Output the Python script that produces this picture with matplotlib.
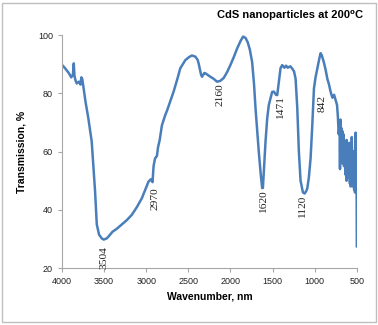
import matplotlib
matplotlib.use('Agg')
import matplotlib.pyplot as plt
from matplotlib.patches import Rectangle

# spectrum
wavenumber = [4000, 3960, 3920, 3890, 3870, 3860, 3852, 3840, 3825, 3800, 3780, 3770, 3760, 3746,
              3720, 3687, 3660, 3647, 3630, 3607, 3587, 3560, 3528, 3504, 3470, 3449, 3400, 3350,
              3290, 3230, 3171, 3110, 3052, 3010, 2973, 2945, 2925, 2913, 2895, 2873, 2860, 2840,
              2814, 2774, 2754, 2700, 2675, 2630, 2596, 2536, 2490, 2457, 2417, 2390, 2378, 2350,
              2338, 2310, 2298, 2239, 2200, 2159, 2120, 2080, 2040, 2001, 1960, 1921, 1880, 1850,
              1820, 1795, 1770, 1743, 1720, 1703, 1680, 1664, 1640, 1624, 1615, 1600, 1584, 1564,
              1545, 1525, 1505, 1485, 1460, 1445, 1425, 1406, 1386, 1360, 1340, 1320, 1290, 1267,
              1245, 1227, 1207, 1188, 1168, 1140, 1120, 1100, 1088, 1070, 1049, 1029, 1009, 990,
              969, 945, 930, 915, 900, 890, 870, 850, 830, 811, 790, 770, 750, 735, 725, 715, 705]
transmission = [89.8, 88.5, 87.0, 85.5, 86.5, 90.3, 86.0, 84.5, 83.4, 84.0, 83.0, 85.5, 85.0, 82.3,
                77.0, 71.4, 66.0, 63.4, 56.0, 46.2, 35.0, 31.5, 30.2, 29.8, 30.2, 30.8, 32.5, 33.5,
                35.0, 36.5, 38.3, 41.0, 44.0, 47.0, 49.7, 50.5, 49.5, 55.0, 57.7, 58.5, 61.5, 64.0,
                69.0, 72.6, 74.0, 78.5, 80.6, 85.0, 88.6, 91.4, 92.5, 93.0, 92.6, 91.5, 90.3, 86.5,
                85.7, 87.0, 86.9, 85.7, 85.0, 84.0, 84.3, 85.3, 87.3, 89.7, 92.5, 95.4, 98.0, 99.5,
                99.0, 97.5, 95.0, 90.8, 83.0, 75.0, 66.0, 60.0, 52.0, 47.5, 47.5, 55.0, 63.4, 71.4,
                76.0, 78.3, 80.5, 80.6, 79.5, 79.4, 84.0, 88.6, 89.7, 88.8, 89.5, 88.8, 89.3, 88.5,
                87.5, 85.0, 75.0, 60.0, 50.0, 46.0, 45.6, 46.5, 47.4, 51.0, 57.7, 69.0, 81.7, 85.5,
                88.6, 92.0, 93.8, 93.0, 91.5, 90.5, 88.0, 85.0, 83.0, 80.5, 78.5, 79.5, 77.5, 76.0,
                72.0, 66.0, 69.0]

# noisy low-wavenumber tail
tail_wavenumber = [700, 695, 685, 680, 672, 670, 662, 660, 652, 650,
                   642, 640, 632, 630, 622, 620, 612, 610, 602, 600,
                   592, 590, 582, 580, 572, 570, 562, 560, 552, 550,
                   542, 540, 532, 530, 522, 520, 515, 510, 505, 500]
tail_transmission = [54, 71, 62, 68, 56, 67, 58, 66, 55, 64,
                     60, 63, 52, 62, 50, 64, 55, 63, 57, 62,
                     51, 63, 49, 60, 48, 58, 54, 65, 50, 60,
                     48, 60, 47, 58, 46, 60, 66.5, 47, 66, 27.5]

# peak labels and where they sit
peak_text = ["3504", "2970", "2160", "1620", "1471", "1120", "842"]
peak_x = [3504, 2895, 2120, 1604, 1406, 1148, 910]
peak_y = [23.6, 44.0, 79.4, 42.8, 75.0, 41.1, 76.6]

plt.rcParams['font.family'] = ['Liberation Sans', 'DejaVu Sans']

fig = plt.figure(figsize=(3.78, 3.25), dpi=100)
ax = fig.add_axes([0.164, 0.175, 0.780, 0.717])

ax.plot(wavenumber + tail_wavenumber, transmission + tail_transmission,
        color='#4a7ebb', lw=1.8)

for t, x, y in zip(peak_text, peak_x, peak_y):
    ax.text(x, y, t, rotation=90, ha='center', va='center', fontsize=8.2,
            family='Liberation Serif', color='#222222')

ax.set_xlim(4000, 500)
ax.set_ylim(20, 100)
ax.set_xticks(range(4000, 499, -500))
ax.set_yticks(range(20, 101, 20))

for s in ['top', 'right']:
    ax.spines[s].set_visible(False)
for s in ['left', 'bottom']:
    ax.spines[s].set_color('#a6a6a6')
    ax.spines[s].set_linewidth(0.8)
ax.tick_params(colors='#a6a6a6', labelcolor='#222222', labelsize=6.5, length=3, width=0.8)

ax.set_xlabel('Wavenumber, nm', fontsize=7.5, fontweight='bold', labelpad=4)
ax.set_ylabel('Transmission, %', fontsize=7.5, fontweight='bold', labelpad=8)

fig.text(0.96, 0.953, 'CdS nanoparticles at 200\u2070C', ha='right', va='center',
         fontsize=8, fontweight='bold')

fig.patches.append(Rectangle((0.006, 0.008), 0.988, 0.984, transform=fig.transFigure,
                             fill=False, edgecolor='#bfbfbf', lw=1))

fig.savefig('out.png', dpi=100)
